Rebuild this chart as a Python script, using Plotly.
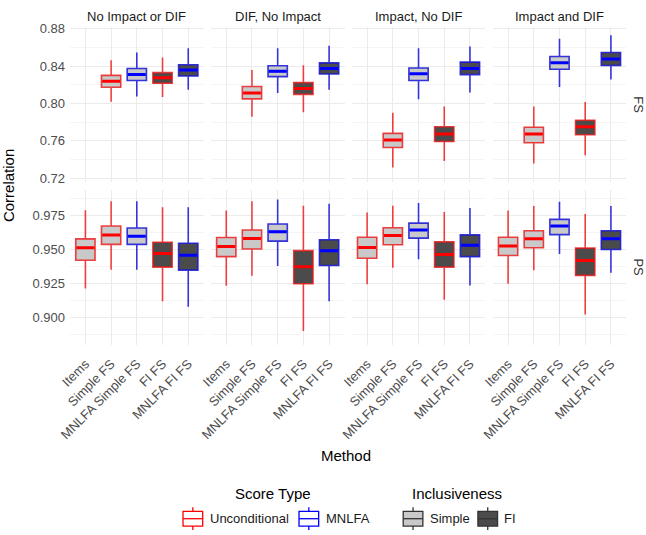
import plotly.graph_objects as go

# ---------------- data ----------------
conditions = ["No Impact or DIF", "DIF, No Impact", "Impact, No DIF", "Impact and DIF"]
rows = ["FS", "PS"]
methods = ["Items", "Simple FS", "MNLFA Simple FS", "FI FS", "MNLFA FI FS"]
score_type = ["Unconditional", "Unconditional", "MNLFA", "Unconditional", "MNLFA"]
inclusiveness = ["Simple", "Simple", "Simple", "FI", "FI"]

# FS row (Items not present)
fs_lower = [[None, 0.802, 0.8075, 0.807, 0.8147],
            [None, 0.7858, 0.8112, 0.7907, 0.8147],
            [None, 0.7313, 0.8045, 0.7384, 0.8118],
            [None, 0.7356, 0.8176, 0.7446, 0.8257]]
fs_q1 = [[None, 0.8175, 0.8247, 0.8218, 0.8295],
         [None, 0.805, 0.8288, 0.8098, 0.8317],
         [None, 0.7528, 0.8247, 0.7592, 0.831],
         [None, 0.758, 0.8367, 0.7665, 0.8408]]
fs_median = [[None, 0.824, 0.831, 0.8275, 0.836],
             [None, 0.8112, 0.8345, 0.816, 0.8375],
             [None, 0.7608, 0.8318, 0.7672, 0.8375],
             [None, 0.7672, 0.8437, 0.775, 0.8477]]
fs_q3 = [[None, 0.8302, 0.8375, 0.8331, 0.8415],
         [None, 0.8182, 0.8405, 0.8224, 0.8436],
         [None, 0.768, 0.838, 0.775, 0.8444],
         [None, 0.7746, 0.8504, 0.782, 0.8547]]
fs_upper = [[None, 0.8465, 0.8547, 0.8494, 0.8592],
            [None, 0.8359, 0.8592, 0.8409, 0.862],
            [None, 0.79, 0.8592, 0.7968, 0.8612],
            [None, 0.7968, 0.8694, 0.8016, 0.8733]]

# PS row
ps_lower = [[0.9211, 0.9349, 0.9349, 0.9117, 0.9078],
            [0.9231, 0.9306, 0.9378, 0.8899, 0.9117],
            [0.9243, 0.9364, 0.9427, 0.9129, 0.9233],
            [0.9247, 0.9345, 0.9465, 0.902, 0.9327]]
ps_q1 = [[0.942, 0.9536, 0.9536, 0.9369, 0.9347],
         [0.9446, 0.9502, 0.956, 0.9247, 0.9381],
         [0.9434, 0.9534, 0.9582, 0.9369, 0.9446],
         [0.9454, 0.9512, 0.9608, 0.9308, 0.9499]]
ps_median = [[0.9512, 0.9606, 0.9596, 0.947, 0.9456],
             [0.9521, 0.9579, 0.963, 0.9371, 0.949],
             [0.9514, 0.9601, 0.9642, 0.9461, 0.9529],
             [0.9524, 0.9577, 0.9671, 0.9417, 0.9577]]
ps_q3 = [[0.9577, 0.9672, 0.9657, 0.9552, 0.9545],
         [0.9587, 0.9642, 0.9686, 0.949, 0.957],
         [0.9589, 0.9659, 0.9693, 0.9555, 0.9606],
         [0.9589, 0.9637, 0.972, 0.9509, 0.9637]]
ps_upper = [[0.9788, 0.9853, 0.9853, 0.9809, 0.9809],
            [0.9785, 0.9853, 0.9867, 0.9821, 0.9836],
            [0.977, 0.9821, 0.9841, 0.9775, 0.9804],
            [0.9785, 0.9819, 0.985, 0.9759, 0.9819]]

fs_ticks = [0.72, 0.76, 0.80, 0.84, 0.88]
ps_ticks = [0.900, 0.925, 0.950, 0.975]

# ---------------- styles ----------------
W, H = 646, 535
FONT = "Liberation Sans, Arial, sans-serif"
line_col = {"Unconditional": "rgba(235,20,20,0.8)", "MNLFA": "rgba(20,20,215,0.85)"}
med_col = {"Unconditional": "#ff0000", "MNLFA": "#0000ff"}
fill_col = {"Simple": "#c9c9c9", "FI": "#4b4b4b"}

panel_x0 = [60, 203.3, 346.6, 490]
panel_w = 136
row_y = [(22, 180), (188, 345)]
row_range = [(0.7155, 0.8824), (0.8797, 0.9935)]
BW = 0.75

fig = go.Figure()
layout = dict(width=W, height=H, margin=dict(l=0, r=0, t=0, b=0),
              paper_bgcolor="white", plot_bgcolor="white",
              showlegend=False, font=dict(family=FONT, color="#4d4d4d"))

row_data = [(fs_lower, fs_q1, fs_median, fs_q3, fs_upper),
            (ps_lower, ps_q1, ps_median, ps_q3, ps_upper)]

for r in range(2):
    lo, q1, md, q3, up = row_data[r]
    for c in range(4):
        k = r * 4 + c + 1
        xa = "x" if k == 1 else f"x{k}"
        ya = "y" if k == 1 else f"y{k}"
        for i, m in enumerate(methods):
            if md[c][i] is None:
                continue
            st, inc = score_type[i], inclusiveness[i]
            fig.add_trace(go.Box(
                x=[i], q1=[q1[c][i]], median=[md[c][i]], q3=[q3[c][i]],
                lowerfence=[lo[c][i]], upperfence=[up[c][i]],
                width=BW, whiskerwidth=0, boxpoints=False,
                fillcolor=fill_col[inc], line=dict(color=line_col[st], width=1.6),
                xaxis=xa, yaxis=ya, hoverinfo="skip"))
            fig.add_trace(go.Scatter(
                x=[i - BW / 2 + 0.03, i + BW / 2 - 0.03], y=[md[c][i], md[c][i]],
                mode="lines", line=dict(color=med_col[st], width=3),
                xaxis=xa, yaxis=ya, hoverinfo="skip"))
        x0 = panel_x0[c]
        ytop, ybot = row_y[r]
        layout["xaxis" if k == 1 else f"xaxis{k}"] = dict(
            domain=[x0 / W, (x0 + panel_w) / W], anchor=ya,
            range=[-0.6, 4.6], tickmode="array", tickvals=list(range(len(methods))),
            ticktext=methods, showticklabels=(r == 1), tickangle=-45,
            tickfont=dict(size=13, color="#4d4d4d", family=FONT),
            showgrid=True, gridcolor="#ebebeb", gridwidth=1, zeroline=False,
            showline=False, ticks="", ticklabelstandoff=8)
        ticks = fs_ticks if r == 0 else ps_ticks
        step = ticks[1] - ticks[0]
        layout["yaxis" if k == 1 else f"yaxis{k}"] = dict(
            domain=[1 - ybot / H, 1 - ytop / H], anchor=xa,
            range=list(row_range[r]), tickmode="array", tickvals=ticks,
            ticktext=[("%.2f" if r == 0 else "%.3f") % t for t in ticks],
            showticklabels=(c == 0),
            tickfont=dict(size=13, color="#4d4d4d", family=FONT),
            showgrid=True, gridcolor="#ebebeb", gridwidth=1, zeroline=False,
            minor=dict(tickmode="array",
                       tickvals=[t + step / 2 for t in [ticks[0] - step] + ticks],
                       showgrid=True, gridcolor="#f5f5f5", gridwidth=1),
            showline=False, ticks="", ticklabelstandoff=4)


def ann(text, x, y, size=13, color="#1a1a1a", angle=0, xanchor="center", xshift=0):
    return dict(text=text, x=x / W, y=1 - y / H, xref="paper", yref="paper",
                showarrow=False, textangle=angle, xanchor=xanchor, yanchor="middle",
                xshift=xshift, font=dict(size=size, color=color, family=FONT))


annotations = []
for c, name in enumerate(conditions):
    annotations.append(ann(name, panel_x0[c] + panel_w / 2, 12))
for r, name in enumerate(rows):
    ymid = (row_y[r][0] + row_y[r][1]) / 2
    annotations.append(ann(name, 638, ymid, color="#333333", angle=90))
annotations.append(ann("Correlation", 9, 183, size=15, color="black", angle=-90, xshift=-12))
annotations.append(ann("Method", 341, 457, size=15, color="black"))

# ---------------- legend (drawn manually) ----------------
legend_titles = ["Score Type", "Inclusiveness"]
legend_title_x = [267, 454]
legend_labels = [["Unconditional", "MNLFA"], ["Simple", "FI"]]
legend_key_x = [[175, 293], [399, 475]]
legend_line = [[med_col["Unconditional"], med_col["MNLFA"]], ["#333333", "#333333"]]
legend_fill = [["white", "white"], [fill_col["Simple"], fill_col["FI"]]]

shapes = []
KY = 521.5
for g in range(2):
    annotations.append(ann(legend_titles[g], legend_title_x[g], 496, size=15, color="black"))
    for j in range(2):
        kx = legend_key_x[g][j]
        col = legend_line[g][j]
        shapes.append(dict(type="rect", xref="paper", yref="paper",
                           x0=kx / W, x1=(kx + 20) / W, y0=1 - 529 / H, y1=1 - 514 / H,
                           fillcolor=legend_fill[g][j], line=dict(color=col, width=1.3)))
        shapes.append(dict(type="line", xref="paper", yref="paper",
                           x0=kx / W, x1=(kx + 20) / W, y0=1 - KY / H, y1=1 - KY / H,
                           line=dict(color=col, width=1.3)))
        for (a, b) in [(510, 514), (529, 533)]:
            shapes.append(dict(type="line", xref="paper", yref="paper",
                               x0=(kx + 10) / W, x1=(kx + 10) / W, y0=1 - a / H, y1=1 - b / H,
                               line=dict(color=col, width=1.3)))
        annotations.append(ann(legend_labels[g][j], kx + 25, KY, xanchor="left"))

layout["annotations"] = annotations
layout["shapes"] = shapes
fig.update_layout(**layout)
fig.write_html("out.html")
